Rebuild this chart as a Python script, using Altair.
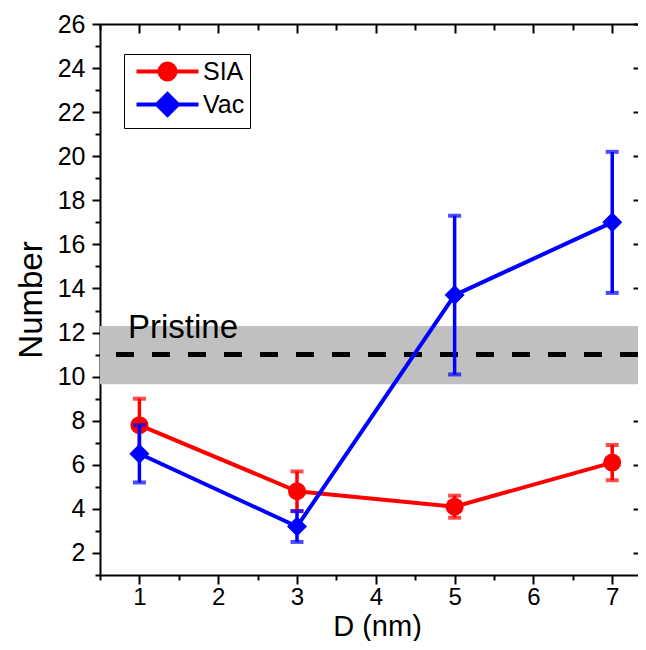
import altair as alt
import pandas as pd

# ---- data ----
D = [1, 3, 5, 7]
SIA = [7.8, 4.8, 4.1, 6.1]
SIA_ERR = [1.2, 0.9, 0.5, 0.8]
VAC = [6.5, 3.2, 13.7, 17.0]
VAC_ERR = [1.3, 0.7, 3.6, 3.2]
PRISTINE = [11.0]
PRISTINE_LO = [9.65]
PRISTINE_HI = [12.3]
SERIES = ["SIA", "Vac"]
COLORS = ["#ff0000", "#0000ff"]
X_MAJOR = [1, 2, 3, 4, 5, 6, 7]
X_MINOR = [0.5, 1.5, 2.5, 3.5, 4.5, 5.5, 6.5]
Y_MAJOR = [2, 4, 6, 8, 10, 12, 14, 16, 18, 20, 22, 24, 26]
Y_MINOR = [1, 3, 5, 7, 9, 11, 13, 15, 17, 19, 21, 23, 25]

# ---- layout ----
W, H = 538, 551
FONT = "Liberation Sans"
xs = alt.Scale(domain=[0.5, 7.327], nice=False, zero=False)
ys = alt.Scale(domain=[1, 26], nice=False, zero=False)

rows = []
for name, vals, errs in [("SIA", SIA, SIA_ERR), ("Vac", VAC, VAC_ERR)]:
    for d, v, e in zip(D, vals, errs):
        rows.append({"D": d, "series": name, "value": v, "lo": v - e, "hi": v + e})
df = pd.DataFrame(rows)
band_df = pd.DataFrame({"lo": PRISTINE_LO, "hi": PRISTINE_HI, "p": PRISTINE, "label": ["Pristine"]})

base = alt.Chart(df)

def X(field="D:Q", axis=None):
    return alt.X(field, scale=xs, axis=axis)

def Y(field="value:Q", axis=None):
    return alt.Y(field, scale=ys, axis=axis)

common = dict(domainColor="black", tickColor="black", labelColor="black",
              titleColor="black", tickWidth=2, domainWidth=2, grid=False,
              labelFont=FONT, titleFont=FONT, titleFontWeight="normal")

# axes layers (invisible marks)
axA = base.mark_point(opacity=0).encode(
    x=X(axis=alt.Axis(orient="bottom", values=X_MAJOR, tickSize=9, labelFontSize=24,
                      labelPadding=1, title="D (nm)", titleFontSize=29,
                      titleX=277, titleY=60, titleBaseline="alphabetic", titleAnchor="middle",
                      format="d", **common)),
    y=Y(axis=alt.Axis(orient="left", values=Y_MAJOR, tickSize=8, labelFontSize=25,
                      labelPadding=7, title="Number", titleFontSize=33,
                      titleX=-59, titleBaseline="alphabetic", titleAngle=270,
                      format="d", **common)),
)
axB = base.mark_point(opacity=0).encode(
    x=X(axis=alt.Axis(orient="bottom", values=X_MINOR, tickSize=5, labels=False,
                      domain=False, title=None, **common)),
    y=Y(axis=alt.Axis(orient="left", values=Y_MINOR, tickSize=5, labels=False,
                      domain=False, title=None, **common)),
)
axC = base.mark_point(opacity=0).encode(
    x=X(axis=alt.Axis(orient="bottom", offset=-H, values=X_MAJOR, tickSize=9,
                      labels=False, domain=True, title=None, **common)),
    y=Y(axis=alt.Axis(orient="left", offset=-W, values=Y_MAJOR, tickSize=5,
                      labels=False, domain=False, title=None, **common)),
)
axD = base.mark_point(opacity=0).encode(
    x=X(axis=alt.Axis(orient="bottom", offset=-H, values=X_MINOR, tickSize=6,
                      labels=False, domain=False, title=None, **common)),
)

band = alt.Chart(band_df).mark_rect(color="#c0c0c0").encode(
    x=alt.value(0), x2=alt.value(W), y=Y("lo:Q"), y2="hi:Q")
dash = alt.Chart(band_df).mark_rule(color="black", strokeWidth=5, strokeDash=[18, 18]).encode(
    y=Y("p:Q"))
ptext = alt.Chart(band_df).mark_text(align="left", baseline="alphabetic", font=FONT,
                                     fontSize=33, color="black", dy=-17).encode(
    x=alt.value(28), y=Y("p:Q"), text="label:N")

def series_layers(name, color, shape, size):
    b = base.transform_filter(alt.datum.series == name)
    line = b.mark_line(color=color, strokeWidth=4).encode(x=X(), y=Y())
    err = b.mark_rule(color=color, strokeWidth=3.5).encode(x=X(), y=Y("lo:Q"), y2="hi:Q")
    caps = b.transform_fold(["lo", "hi"], as_=["end", "yv"]).mark_tick(
        color=color, orient="horizontal", size=13, thickness=4).encode(x=X(), y=Y("yv:Q"))
    pts = b.mark_point(filled=True, color=color, shape=shape, size=size, opacity=1,
                       strokeWidth=0).encode(x=X(), y=Y())
    return [line, err, caps, pts]

SIA_PATH = "M-0.5,0L5.7,0M3.4,0A0.8,0.8,0,1,1,1.8,0A0.8,0.8,0,1,1,3.4,0Z"
VAC_PATH = "M-0.5,0L5.7,0M1.55,0L2.6,-1.05L3.65,0L2.6,1.05Z"

legend_layer = base.transform_filter("false").mark_point(filled=True, opacity=1).encode(
    x=X(), y=Y(),
    fill=alt.Fill("series:N", scale=alt.Scale(domain=SERIES, range=COLORS),
                  legend=alt.Legend(orient="none", legendX=24, legendY=30, title=None,
                                    labelFont=FONT, labelFontSize=25, labelColor="black",
                                    symbolSize=400, symbolStrokeWidth=4, labelOffset=49,
                                    symbolOpacity=1,
                                    rowPadding=-2, padding=5, strokeColor="black",
                                    fillColor="white", cornerRadius=0)),
    stroke=alt.Stroke("series:N", scale=alt.Scale(domain=SERIES, range=COLORS)),
    shape=alt.Shape("series:N", scale=alt.Scale(domain=SERIES, range=[SIA_PATH, VAC_PATH])),
)

layers = [band, dash, ptext, axA, axB, axC, axD]
layers += series_layers("SIA", COLORS[0], "circle", 324)
layers += series_layers("Vac", COLORS[1], "diamond", 400)
layers += [legend_layer]

chart = alt.layer(*layers).resolve_axis(x="independent", y="independent").properties(
    width=W, height=H,
    autosize=alt.AutoSizeParams(type="none"),
    padding={"left": 92, "top": 16, "right": 0, "bottom": 66},
).configure_view(stroke=None)

chart.save("out.html", embed_options={"renderer": "svg", "actions": False})
